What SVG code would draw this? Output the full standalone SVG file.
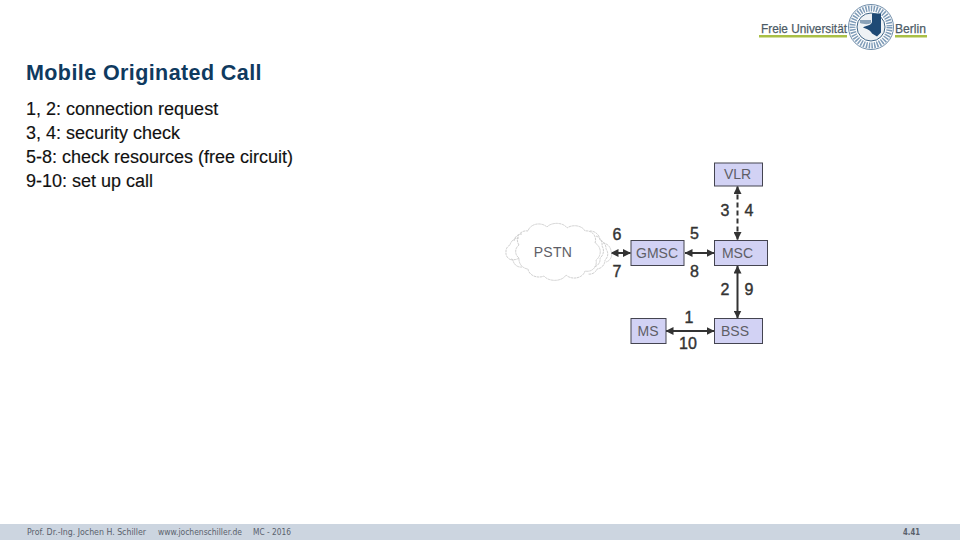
<svg xmlns="http://www.w3.org/2000/svg" width="960" height="540" viewBox="0 0 960 540">
<style>
text{font-family:"Liberation Sans",Arial,sans-serif}
.title{font-size:21.500px;font-weight:bold;fill:#0f3a5f}
.body{font-size:18px;fill:#111;stroke:#111;stroke-width:.15}
.box{fill:#d2d2f4;stroke:#444450;stroke-width:1}
.lab{font-size:14px;fill:#5e5e66;text-anchor:middle}
.num{font-size:16px;fill:#333;stroke:#333;stroke-width:.4;text-anchor:middle}
.foot{font-size:8px;fill:#5a616c;font-family:"DejaVu Sans",sans-serif}
.con{fill:none;stroke:#333;stroke-width:2}
.cl{fill:none;stroke:#cfcfcf;stroke-width:1;stroke-dasharray:2.500 .6}
</style>
<defs>
<marker id="a" viewBox="0 0 8 8" refX="7.500" refY="4" markerWidth="8" markerHeight="8" markerUnits="userSpaceOnUse" orient="auto-start-reverse"><path d="M0 0L8 4L0 8z" fill="#333"/></marker>
</defs>
<rect width="960" height="540" fill="#fff"/>
<g id="logo">
<text x="761" y="33" font-size="13.500" fill="#4d5b66" stroke="#4d5b66" stroke-width=".25" textLength="86" lengthAdjust="spacingAndGlyphs">Freie Universität</text>
<text x="895" y="33" font-size="13.500" fill="#4d5b66" stroke="#4d5b66" stroke-width=".25" textLength="31" lengthAdjust="spacingAndGlyphs">Berlin</text>
<rect x="759" y="35" width="88" height="2.500" fill="#a9bf45"/>
<rect x="895" y="35" width="32" height="2.500" fill="#a9bf45"/>
<circle cx="871" cy="27" r="22.500" fill="#fff" stroke="#6d8ba8" stroke-width="1"/>
<circle cx="871" cy="27" r="18.500" fill="none" stroke="#7f9cb8" stroke-width="6" stroke-dasharray="1.500 1.200"/>
<circle cx="871" cy="27" r="14" fill="#eef2f5" stroke="#3f6586" stroke-width="1"/>
<path d="M872 13.500h9v19l-4 4-5-3c-1-3-6-5-9-6c3-2 9-2 9-6z" fill="#1f4a75"/>
<path d="M860 20h11v3c-3 2-8 1-11 0z" fill="#8aa2b8"/>
</g>
<text class="title" x="26" y="79.500" textLength="235.500" lengthAdjust="spacing">Mobile Originated Call</text>
<g id="bullets">
<text class="body" x="26" y="115">1, 2: connection request</text>
<text class="body" x="26" y="139">3, 4: security check</text>
<text class="body" x="26" y="163">5-8: check resources (free circuit)</text>
<text class="body" x="26" y="187">9-10: set up call</text>
</g>
<g id="connectors">
<path class="con" d="M737.500 186.500V239.500" stroke-dasharray="5 3" marker-start="url(#a)" marker-end="url(#a)"/>
<path class="con" d="M737.500 266V318" marker-start="url(#a)" marker-end="url(#a)"/>
<path class="con" d="M685 253H714" marker-start="url(#a)" marker-end="url(#a)"/>
<path class="con" d="M611 253H630.500" marker-start="url(#a)" marker-end="url(#a)"/>
<path class="con" d="M666 331H714" marker-start="url(#a)" marker-end="url(#a)"/>
</g>
<g id="pstn">
<path class="cl" d="M519 245A9 9 0 0 1 528 231A11 9 0 0 1 547 227A11 7 0 0 1 567 228A11 8 0 0 1 585 231A9 9 0 0 1 595 243A10 10 0 0 1 596 260A9 9 0 0 1 585 271A11 9 0 0 1 566 275A12 8 0 0 1 544 276A11 9 0 0 1 528 269A10 10 0 0 1 519 258A8 8 0 0 1 519 245Z"/>
<path class="cl" d="M519 238A9 9 0 0 0 510 245A7 7 0 0 0 506 252A7 7 0 0 0 513 260A8 8 0 0 0 522 267"/>
<path class="cl" d="M514 241A8 8 0 0 1 522 234M511 259A8 8 0 0 0 519 258"/>
<path class="cl" d="M590 231A10 10 0 0 1 600 240A9 9 0 0 1 606 249A8 8 0 0 1 605 260A9 9 0 0 1 597 269A8 8 0 0 1 588 274"/>
<path class="cl" d="M596 236A9 9 0 0 1 602 246A9 9 0 0 1 600 258A8 8 0 0 1 594 267"/>
<path class="cl" d="M603 243A9 9 0 0 1 611 251A8 8 0 0 1 606 262"/>
<text class="lab" x="553" y="257" style="letter-spacing:.3px">PSTN</text>
</g>
<g id="vlr"><rect class="box" x="714.500" y="163" width="48" height="23"/><text class="lab" x="737.500" y="179">VLR</text></g>
<g id="msc"><rect class="box" x="714.500" y="240.500" width="53" height="25"/><text class="lab" x="737.500" y="258">MSC</text></g>
<g id="gmsc"><rect class="box" x="631" y="240.500" width="53" height="25"/><text class="lab" x="657" y="258">GMSC</text></g>
<g id="bss"><rect class="box" x="714.500" y="318.500" width="48" height="25"/><text class="lab" x="735" y="336">BSS</text></g>
<g id="ms"><rect class="box" x="631" y="318.500" width="35" height="25"/><text class="lab" x="648" y="336">MS</text></g>
<g id="labels">
<text class="num" x="725" y="216">3</text>
<text class="num" x="749" y="216">4</text>
<text class="num" x="617" y="240">6</text>
<text class="num" x="694.500" y="239">5</text>
<text class="num" x="617" y="277">7</text>
<text class="num" x="694.500" y="277">8</text>
<text class="num" x="725" y="295">2</text>
<text class="num" x="749" y="295">9</text>
<text class="num" x="689" y="323">1</text>
<text class="num" x="688" y="349">10</text>
</g>
<g id="footer">
<rect x="0" y="524" width="960" height="16" fill="#ccd5e0"/>
<text class="foot" x="27" y="535" textLength="119" lengthAdjust="spacingAndGlyphs">Prof. Dr.-Ing. Jochen H. Schiller</text>
<text class="foot" x="158" y="535" textLength="84" lengthAdjust="spacingAndGlyphs">www.jochenschiller.de</text>
<text class="foot" x="253" y="535" textLength="38" lengthAdjust="spacingAndGlyphs">MC - 2016</text>
<text class="foot" x="903" y="535" font-weight="bold" textLength="17" lengthAdjust="spacingAndGlyphs">4.41</text>
</g>
</svg>
